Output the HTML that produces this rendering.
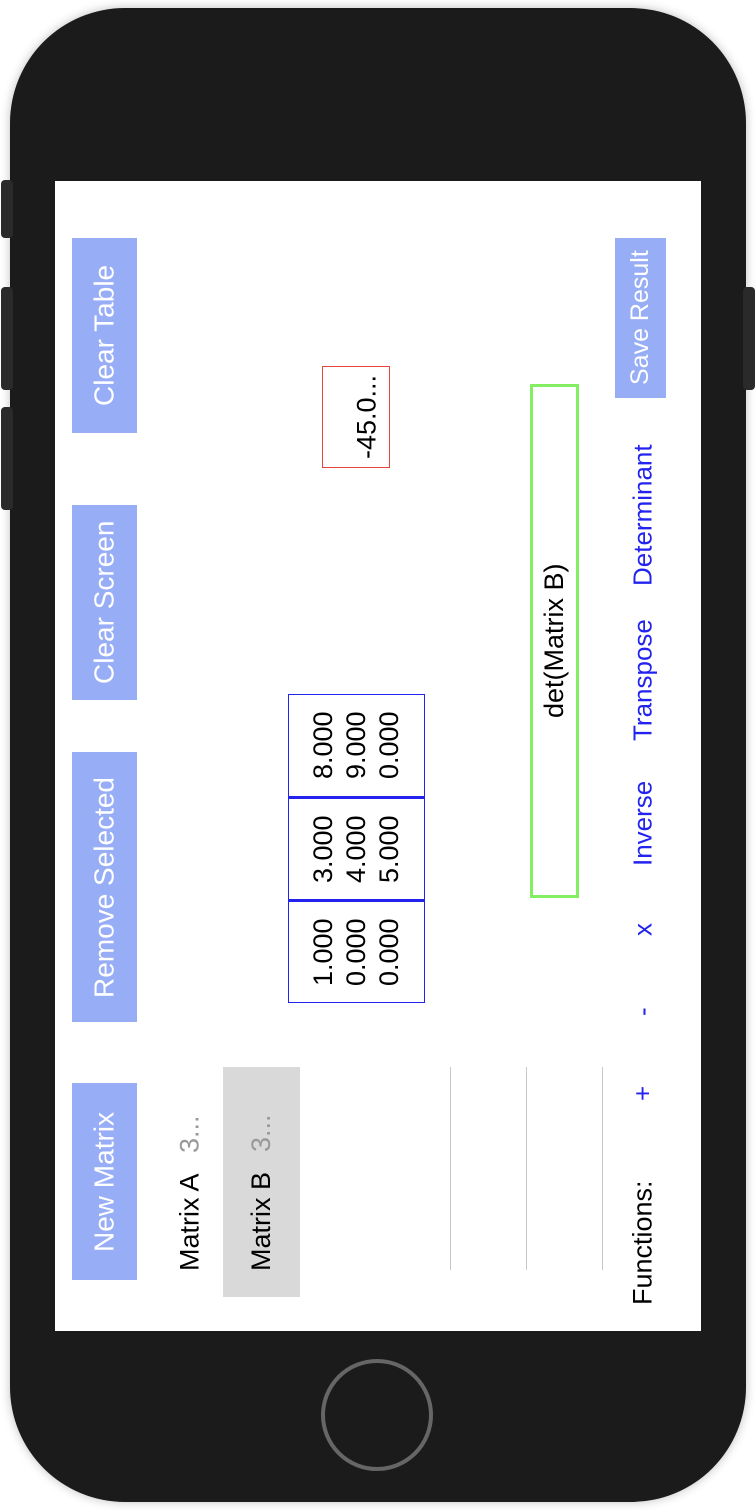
<!DOCTYPE html>
<html><head><meta charset="utf-8"><style>
body{margin:0;width:756px;height:1510px;background:#fff;position:relative;overflow:hidden;font-family:"Liberation Sans",sans-serif}
.a{position:absolute;box-sizing:border-box}
.v{writing-mode:vertical-rl;transform:rotate(180deg);display:flex;align-items:center;justify-content:center;white-space:nowrap}
.btn{background:#97adf5;color:#fff;font-size:28px}
.fn{color:#2323f0;font-size:26px}
.side{background:#2a2a2a;border-radius:4px}
.cell{font-size:27px;line-height:33px;color:#000}
</style></head><body>
<div class="a" style="left:10px;top:8px;width:736px;height:1494px;background:#1b1b1b;border-radius:115px;box-shadow:0 0 10px rgba(0,0,0,.25)"></div>
<div class="a side" style="left:1px;top:180px;width:12px;height:58px"></div>
<div class="a side" style="left:1px;top:287px;width:12px;height:103px"></div>
<div class="a side" style="left:1px;top:407px;width:12px;height:103px"></div>
<div class="a side" style="left:743px;top:287px;width:12px;height:103px"></div>
<div class="a" style="left:321px;top:1359px;width:112px;height:112px;border:4px solid #666;border-radius:50%"></div>
<div class="a" style="left:55px;top:181px;width:646px;height:1150px;background:#fff"></div>

<div class="a v btn" style="left:72px;top:1083px;width:65px;height:197px">New Matrix</div>
<div class="a v btn" style="left:72px;top:752px;width:65px;height:270px">Remove Selected</div>
<div class="a v btn" style="left:72px;top:505px;width:65px;height:195px">Clear Screen</div>
<div class="a v btn" style="left:72px;top:238px;width:65px;height:195px">Clear Table</div>
<div class="a v btn" style="left:615px;top:238px;width:51px;height:160px;font-size:25px">Save Result</div>

<div class="a v" style="left:160px;top:1067px;width:60px;height:230px;justify-content:flex-start;padding-top:26px;font-size:27px">Matrix A<span style="color:#999;margin-top:20px">3...</span></div>
<div class="a v" style="left:223px;top:1067px;width:77px;height:230px;background:#d9d9d9;justify-content:flex-start;padding-top:26px;font-size:27px">Matrix B<span style="color:#999;margin-top:20px">3...</span></div>
<div class="a" style="left:450px;top:1067px;width:1px;height:203px;background:#c8c8c8"></div>
<div class="a" style="left:526px;top:1067px;width:1px;height:203px;background:#c8c8c8"></div>
<div class="a" style="left:602px;top:1067px;width:1px;height:203px;background:#c8c8c8"></div>

<div class="a" style="left:288px;top:694px;width:137px;height:309px;border:1.5px solid #2323f0"></div>
<div class="a" style="left:289px;top:796px;width:135px;height:3px;background:#2323f0"></div>
<div class="a" style="left:289px;top:899px;width:135px;height:3px;background:#2323f0"></div>
<div class="a v cell" style="left:288px;top:901px;width:137px;height:102px">1.000<br>0.000<br>0.000</div>
<div class="a v cell" style="left:288px;top:798px;width:137px;height:102px">3.000<br>4.000<br>5.000</div>
<div class="a v cell" style="left:288px;top:694px;width:137px;height:103px">8.000<br>9.000<br>0.000</div>

<div class="a v" style="left:322px;top:366px;width:68px;height:102px;border:1.5px solid #e8443a;font-size:27px;padding-right:22px">-45.0...</div>
<div class="a v" style="left:530px;top:384px;width:49px;height:514px;border:3px solid #84ee63;font-size:27px">det(Matrix B)</div>

<div class="a v" style="left:625px;top:1180px;width:36px;height:125px;font-size:27px">Functions:</div>
<div class="a v fn" style="left:625px;top:1075px;width:36px;height:36px">+</div>
<div class="a v fn" style="left:625px;top:994px;width:36px;height:36px">-</div>
<div class="a v fn" style="left:625px;top:912px;width:36px;height:36px">x</div>
<div class="a v fn" style="left:625px;top:770px;width:36px;height:106px">Inverse</div>
<div class="a v fn" style="left:625px;top:610px;width:36px;height:140px">Transpose</div>
<div class="a v fn" style="left:625px;top:432px;width:36px;height:166px">Determinant</div>
</body></html>
